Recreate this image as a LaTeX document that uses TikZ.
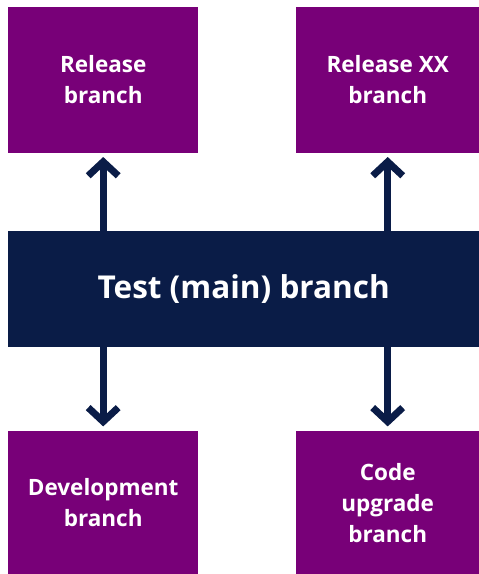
\documentclass[tikz,border=0pt]{standalone}
\usepackage{fontspec}
\setmainfont{Open Sans}
\usepackage{xcolor}
\usetikzlibrary{arrows.meta,positioning}
\definecolor{brpurple}{HTML}{780078}
\definecolor{brnavy}{HTML}{0A1C47}

\begin{document}
\begin{tikzpicture}[
  x=1pt,y=1pt,
  every node/.style={text=white,align=center},
  branch/.style={rectangle,fill=brpurple,inner sep=0pt,
                 font=\fontsize{22.5}{31}\selectfont\bfseries},
  mainbox/.style={rectangle,fill=brnavy,inner sep=0pt,
                  minimum width=471pt,minimum height=116pt,
                  font=\fontsize{31.5}{36}\selectfont\bfseries},
  link/.style={-{Straight Barb[length=14pt,width=30pt]},line width=7pt,draw=brnavy,shorten >=4pt}
]
\useasboundingbox (0,0) rectangle (479,-574);

%% ---- central branch ----
\node[mainbox,anchor=north west] (main) at (8,-231) {Test (main) branch};

%% ---- release side ----
\node[branch,minimum width=190pt,minimum height=146pt,
      above right=78pt and 0pt of main.north west] (rel) {Release\\ branch};
\node[branch,minimum width=183pt,minimum height=146pt,
      above left=78pt and 0pt of main.north east] (relxx) {Release XX\\ branch};

%% ---- working side ----
\node[branch,minimum width=190pt,minimum height=144pt,
      below right=83pt and 0pt of main.south west] (dev) {Development\\ branch};
\node[branch,minimum width=183pt,minimum height=144pt,
      below left=83pt and 0pt of main.south east] (upg) {Code\\ upgrade\\ branch};

%% ---- arrows ----
\foreach \b in {rel,relxx}{
  \draw[link] (main.north -| \b.south) -- (\b.south);
}
\foreach \b in {dev,upg}{
  \draw[link] (main.south -| \b.north) -- (\b.north);
}

\end{tikzpicture}
\end{document}
